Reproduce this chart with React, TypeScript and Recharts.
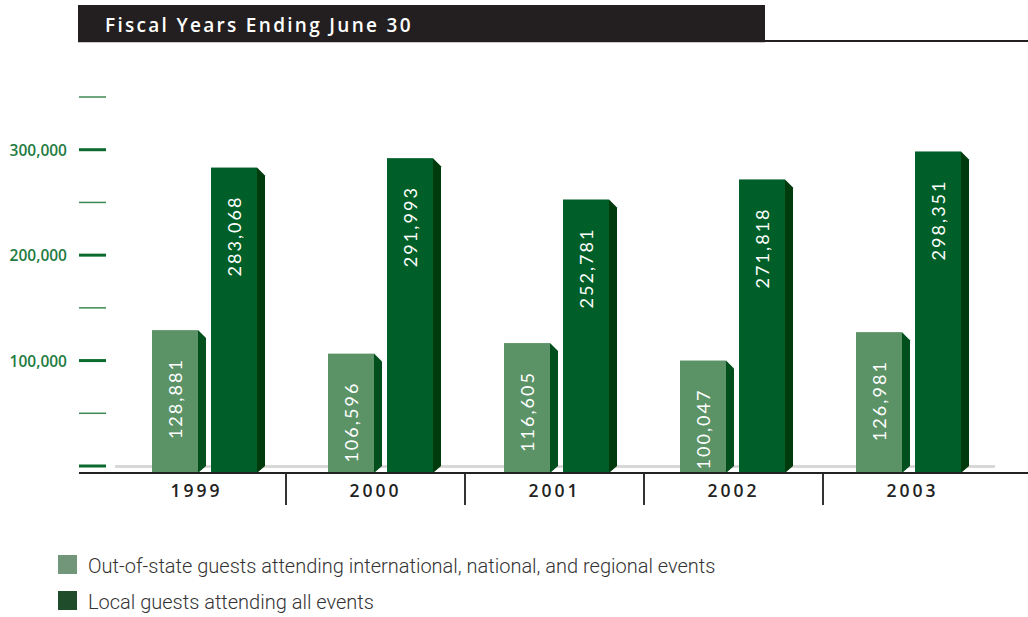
import React from 'react';
import { BarChart, Bar, XAxis, YAxis, LabelList } from 'recharts';

const years = ['1999', '2000', '2001', '2002', '2003'];
const outOfState = [128881, 106596, 116605, 100047, 126981];
const local = [283068, 291993, 252781, 271818, 298351];
const yTicks = [0, 50000, 100000, 150000, 200000, 250000, 300000, 350000];
const yLabelTicks = [100000, 200000, 300000];

const chartData = years.map((year, i) => ({ year, outOfState: outOfState[i], local: local[i] }));

const LIGHT = '#5b9367';
const LIGHT_SIDE = '#004f1c';
const DARK = '#005f28';
const DARK_SIDE = '#003b0e';
const FLOOR = 7;
const DEPTH = 8;
const HALF_BAND = 89.5;

const make3d = (face: string, side: string) => (props: any) => {
  const { x, y, width, height } = props;
  const right = x + width;
  const base = y + height;
  return (
    <g>
      <rect x={x} y={y} width={width} height={height + FLOOR} fill={face} />
      <polygon
        points={`${right},${y} ${right + DEPTH},${y + DEPTH} ${right + DEPTH},${base} ${right},${base + FLOOR}`}
        fill={side}
      />
    </g>
  );
};

const ValueLabel = (props: any) => {
  const { x, y, width, value } = props;
  const cx = x + width / 2;
  const ty = y + 30;
  return (
    <text
      x={cx}
      y={ty}
      transform={`rotate(-90 ${cx} ${ty})`}
      textAnchor="end"
      dominantBaseline="central"
      fill="#ffffff"
      fontSize={18}
      fontFamily="Lato, sans-serif"
      textLength={79}
      lengthAdjust="spacing"
    >
      {Number(value).toLocaleString('en-US')}
    </text>
  );
};

const LeftTick = (props: any) => {
  const { y, payload } = props;
  const v = payload.value;
  const major = v % 100000 === 0;
  return (
    <g>
      <line x1={79} x2={106} y1={y} y2={y} stroke={major ? '#0b6a2d' : '#3b8a52'} strokeWidth={major ? 3 : 1.5} />
      {yLabelTicks.includes(v) && (
        <text x={67} y={y} textAnchor="end" dominantBaseline="central" fill="#1e7b3f" fontSize={15.5} fontWeight={600} fontFamily="'Open Sans', sans-serif">
          {v.toLocaleString('en-US')}
        </text>
      )}
    </g>
  );
};

const RightTick = (props: any) => {
  const { y, payload } = props;
  const major = payload.value % 100000 === 0;
  return (
    <line x1={1003} x2={1028} y1={y} y2={y} stroke={major ? '#0b6a2d' : '#3b8a52'} strokeWidth={major ? 3 : 1.5} />
  );
};

const YearTick = (props: any) => {
  const { x, payload, index } = props;
  return (
    <g>
      <text x={x} y={497} textAnchor="middle" fill="#222" fontSize={17.5} fontWeight={600} letterSpacing={3} fontFamily="'Open Sans', sans-serif">
        {payload.value}
      </text>
      {index < years.length - 1 && (
        <line x1={x + HALF_BAND} x2={x + HALF_BAND} y1={474} y2={505} stroke="#333" strokeWidth={2} />
      )}
    </g>
  );
};

export default function App() {
  return (
    <div style={{ position: 'absolute', left: 0, top: 0, width: 1028, height: 617, background: '#fff', fontFamily: "'Open Sans', sans-serif" }}>
      <div style={{ position: 'absolute', left: 78, top: 5, width: 687, height: 37, background: '#231f20', borderBottom: '1px solid #c8c8c8' }}>
        <div style={{ position: 'absolute', left: 27, top: 7, color: '#fff', fontSize: 19, fontWeight: 600, letterSpacing: 2.3 }}>
          Fiscal Years Ending June 30
        </div>
      </div>
      <div style={{ position: 'absolute', left: 765, top: 40, width: 263, height: 2, background: '#231f20' }} />

      {/* grey floor line sits behind the bars */}
      <div style={{ position: 'absolute', left: 115, top: 465, width: 880, height: 3, background: '#d8d8d8' }} />

      <div style={{ position: 'absolute', left: 0, top: 0 }}>
        <BarChart width={1028} height={520} data={chartData} margin={{ top: 97, right: 0, bottom: 0, left: 0 }} barGap={13}>
          <XAxis xAxisId="bars" dataKey="year" hide padding={{ left: 9, right: 6 }} />
          <XAxis xAxisId="labels" dataKey="year" height={54} axisLine={false} tickLine={false} tick={<YearTick />} interval={0} />
          <YAxis yAxisId="left" width={107} domain={[0, 350000]} ticks={yTicks} axisLine={false} tickLine={false} tick={<LeftTick />} interval={0} />
          <YAxis yAxisId="right" orientation="right" width={26} domain={[0, 350000]} ticks={yTicks} axisLine={false} tickLine={false} tick={<RightTick />} interval={0} />
          <Bar xAxisId="bars" yAxisId="left" dataKey="outOfState" barSize={46} shape={make3d(LIGHT, LIGHT_SIDE)} isAnimationActive={false}>
            <LabelList dataKey="outOfState" content={<ValueLabel />} />
          </Bar>
          <Bar xAxisId="bars" yAxisId="left" dataKey="local" barSize={46} shape={make3d(DARK, DARK_SIDE)} isAnimationActive={false}>
            <LabelList dataKey="local" content={<ValueLabel />} />
          </Bar>
        </BarChart>
      </div>

      <div style={{ position: 'absolute', left: 79, top: 472, width: 949, height: 2, background: '#222' }} />

      <div style={{ position: 'absolute', left: 58, top: 555, width: 19, height: 19, background: '#71967a' }} />
      <div style={{ position: 'absolute', left: 88, top: 554, fontSize: 20, fontWeight: 300, color: '#333', fontFamily: 'Roboto, sans-serif' }}>
        Out-of-state guests attending international, national, and regional events
      </div>
      <div style={{ position: 'absolute', left: 58, top: 591, width: 19, height: 19, background: '#1f4d2c' }} />
      <div style={{ position: 'absolute', left: 88, top: 590, fontSize: 20, fontWeight: 300, color: '#333', fontFamily: 'Roboto, sans-serif' }}>
        Local guests attending all events
      </div>
    </div>
  );
}
